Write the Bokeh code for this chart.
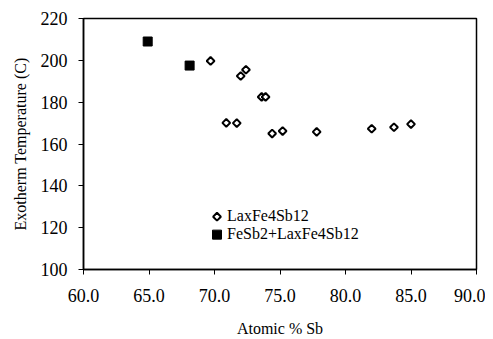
from bokeh.plotting import figure
from bokeh.models import (Legend, LegendItem, FixedTicker, PrintfTickFormatter,
                          ColumnDataSource, Range1d)
from bokeh.embed import file_html
from bokeh.resources import INLINE
import math

# Data
la_x = [69.7, 72.0, 72.4, 73.6, 73.9, 70.9, 71.7, 74.4, 75.2, 77.8, 82.0, 83.7, 85.0]
la_y = [199.7, 192.5, 195.5, 182.5, 182.5, 170.1, 170.0, 165.0, 166.2, 165.8, 167.3, 168.0, 169.5]
fe_x = [64.9, 68.1]
fe_y = [209.0, 197.5]
x_ticks = [60, 65, 70, 75, 80, 85, 90]
y_ticks = [100, 120, 140, 160, 180, 200, 220]
series_labels = ["LaxFe4Sb12", "FeSb2+LaxFe4Sb12"]

FONT = "Liberation Serif"
FRAME_W, FRAME_H = 393, 252

p = figure(width=485, height=339, output_backend="svg", toolbar_location=None,
           x_range=Range1d(60, 90), y_range=Range1d(100, 220),
           min_border_left=83, min_border_right=9, min_border_top=18, min_border_bottom=69)
p.background_fill_color = "white"
p.border_fill_color = "white"
p.outline_line_color = "black"
p.outline_line_width = 1.5
p.xgrid.visible = False
p.ygrid.visible = False

# pixel-unit ranges for the legend keys
p.extra_x_ranges = {"px": Range1d(0, FRAME_W)}
p.extra_y_ranges = {"px": Range1d(0, FRAME_H)}

src_la = ColumnDataSource(dict(x=la_x, y=la_y))
src_fe = ColumnDataSource(dict(x=fe_x, y=fe_y))

LA_STYLE = dict(marker="square", size=5.5, angle=math.pi / 4,
                fill_color="white", line_color="black", line_width=2)
FE_STYLE = dict(marker="square", size=9, fill_color="black", line_color="black", line_width=1)

r_la = p.scatter("x", "y", source=src_la, **LA_STYLE)
r_fe = p.scatter("x", "y", source=src_fe, **FE_STYLE)

# legend keys (drawn in pixel units so the diamond keeps its rotation)
key_x0, key_y0, row_h = 133.5, 53, 18
p.scatter(x=[key_x0], y=[key_y0], x_range_name="px", y_range_name="px", **LA_STYLE)
p.scatter(x=[key_x0], y=[key_y0 - row_h], x_range_name="px", y_range_name="px", **FE_STYLE)

# invisible renderers only carrying the legend labels
blank1 = p.scatter(x=[], y=[], fill_alpha=0, line_alpha=0)
blank2 = p.scatter(x=[], y=[], fill_alpha=0, line_alpha=0)

for ax in (p.xaxis[0], p.yaxis[0]):
    ax.axis_line_color = "black"
    ax.axis_line_width = 1.5
    ax.major_tick_line_color = "black"
    ax.major_tick_line_width = 1
    ax.major_tick_in = 0
    ax.major_tick_out = 5
    ax.minor_tick_line_color = None
    ax.major_label_text_font = FONT
    ax.major_label_text_font_size = "18px"
    ax.major_label_text_color = "black"
    ax.axis_label_text_font = FONT
    ax.axis_label_text_font_size = "16px"
    ax.axis_label_text_font_style = "normal"
    ax.axis_label_text_color = "black"

p.xaxis.ticker = FixedTicker(ticks=x_ticks)
p.yaxis.ticker = FixedTicker(ticks=y_ticks)
p.xaxis.formatter = PrintfTickFormatter(format="%.1f")
p.xaxis.major_label_standoff = 14
p.yaxis.major_label_standoff = 11
p.xaxis.axis_label = "Atomic % Sb"
p.yaxis.axis_label = "Exotherm Temperature (C)"
p.xaxis.axis_label_standoff = 15
p.yaxis.axis_label_standoff = 9

legend = Legend(items=[LegendItem(label=series_labels[0], renderers=[blank1]),
                       LegendItem(label=series_labels[1], renderers=[blank2])],
                location=(127, 26))
legend.label_text_font = FONT
legend.label_text_font_size = "16px"
legend.label_text_color = "black"
legend.glyph_width = 12
legend.glyph_height = 16
legend.label_height = 16
legend.label_standoff = 5
legend.spacing = 0
legend.padding = 0
legend.margin = 0
legend.border_line_alpha = 0
legend.background_fill_alpha = 0
p.add_layout(legend)

open("out.html", "w").write(file_html(p, INLINE))
